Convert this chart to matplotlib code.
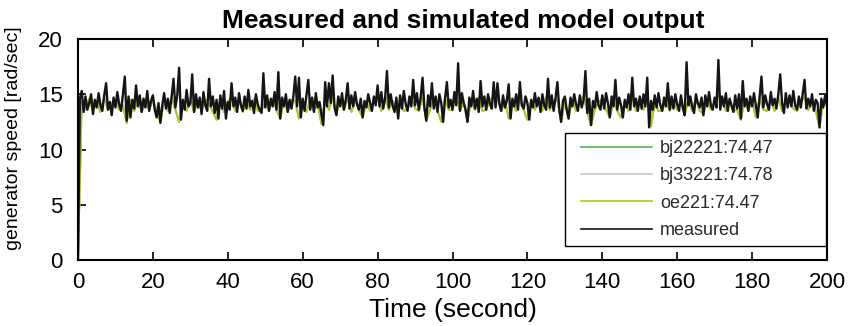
import numpy as np
import matplotlib
matplotlib.use("Agg")
import matplotlib.pyplot as plt
from matplotlib.patches import Rectangle

plt.rcParams['font.family'] = ['Liberation Sans', 'DejaVu Sans']

# ---- data ----
dt_measured = 0.5   # seconds between measured samples
measured = [
    0.0, 14.6, 15.3, 13.4, 14.8, 13.6, 14.2, 15.0, 13.2, 14.5, 13.8, 15.1, 14.0, 13.5, 14.9, 16.0, 13.6, 14.3, 13.1, 14.7,
    13.8, 15.2, 14.1, 13.5, 15.0, 16.6, 12.6, 14.8, 12.9, 14.5, 13.7, 15.8, 13.9, 14.9, 13.4, 14.6, 13.8, 15.3, 13.5, 14.4,
    14.9, 13.6, 12.9, 14.2, 12.4, 14.0, 15.1, 13.7, 14.6, 13.3, 14.8, 16.4, 13.8, 14.9, 17.4, 12.7, 14.5, 13.6, 15.4, 13.9,
    14.2, 16.8, 13.4, 15.0, 13.8, 14.7, 13.2, 15.2, 14.0, 13.5, 16.4, 13.9, 14.8, 13.3, 14.5, 12.8, 14.9, 13.7, 15.3, 12.8,
    14.3, 13.6, 16.0, 13.9, 14.7, 13.4, 15.1, 14.0, 13.5, 14.8, 13.7, 15.4, 13.9, 14.4, 13.3, 15.0, 14.1, 13.6, 13.3, 16.9,
    13.8, 14.9, 13.5, 14.6, 13.9, 15.2, 13.6, 17.0, 12.8, 14.7, 13.9, 15.0, 13.4, 14.5, 13.7, 14.8, 16.6, 13.9, 16.5, 12.9,
    14.6, 13.5, 14.9, 16.3, 13.6, 14.7, 13.4, 15.1, 13.8, 14.3, 13.2, 12.2, 16.1, 13.9, 16.0, 14.2, 16.7, 13.8, 13.1, 14.8,
    13.9, 15.1, 13.6, 14.5, 16.0, 13.7, 14.9, 13.9, 15.2, 14.1, 13.6, 14.6, 12.9, 14.4, 13.8, 15.0, 14.2, 13.5, 14.8, 14.0,
    15.8, 13.9, 15.2, 13.7, 14.6, 17.1, 13.8, 15.0, 14.0, 13.4, 14.7, 12.8, 14.9, 13.7, 15.3, 14.1, 13.5, 14.8, 13.9, 16.3,
    14.0, 15.1, 13.6, 14.7, 16.5, 13.8, 12.6, 14.9, 13.9, 16.0, 13.7, 14.8, 13.4, 15.0, 14.2, 12.5, 14.6, 16.1, 13.8, 14.5,
    13.6, 15.2, 14.0, 17.8, 13.5, 15.1, 14.2, 13.6, 12.5, 14.7, 13.9, 15.3, 13.7, 14.6, 13.4, 16.2, 13.9, 14.8, 13.6, 15.0,
    14.1, 13.7, 16.1, 13.8, 16.0, 14.2, 13.5, 14.9, 13.8, 14.4, 15.9, 12.8, 14.6, 13.9, 15.0, 13.6, 16.1, 14.0, 13.7, 14.8,
    14.2, 12.7, 14.5, 13.8, 15.1, 13.9, 14.7, 13.4, 15.0, 14.0, 13.6, 16.4, 13.8, 14.9, 13.5, 14.6, 16.1, 13.7, 12.5, 14.4,
    14.8, 13.6, 12.8, 14.7, 13.9, 15.0, 14.1, 13.5, 14.9, 13.8, 14.5, 17.1, 13.3, 14.6, 12.2, 14.4, 13.8, 15.2, 14.0, 13.6,
    14.9, 13.7, 15.1, 14.2, 12.9, 14.8, 13.9, 16.3, 13.6, 14.7, 14.0, 12.9, 14.5, 13.8, 15.0, 13.6, 16.5, 13.9, 14.6, 13.5,
    14.8, 13.7, 15.0, 13.9, 16.5, 12.0, 14.4, 13.6, 14.9, 13.8, 15.1, 14.0, 13.5, 14.7, 13.9, 16.0, 13.6, 14.8, 13.7, 15.0,
    14.1, 13.5, 14.9, 13.8, 13.1, 17.9, 14.0, 14.8, 13.9, 13.3, 15.0, 14.2, 13.8, 14.7, 13.1, 14.9, 13.9, 15.2, 14.0, 13.6,
    14.7, 13.8, 18.1, 13.6, 14.8, 13.9, 15.1, 13.5, 14.6, 14.0, 13.4, 14.9, 13.7, 15.0, 12.8, 16.2, 13.9, 14.6, 13.5, 14.8,
    13.9, 15.1, 14.0, 12.9, 14.7, 16.6, 13.8, 14.9, 14.1, 13.6, 15.2, 14.0, 14.6, 13.7, 15.0, 16.8, 14.2, 13.3, 15.1, 13.8,
    14.9, 13.9, 15.3, 14.0, 13.6, 14.8, 13.8, 15.0, 16.3, 13.7, 14.6, 13.9, 15.0, 13.5, 14.5, 14.2, 12.0, 14.6, 13.8, 14.9,
    14.0,
]

dt_model = 1.0      # seconds between simulated samples
simulated = [
    0.0, 14.3, 13.6, 14.6, 13.5, 14.4, 13.4, 14.7, 13.6, 14.2,
    14.5, 13.6, 14.0, 12.4, 14.5, 13.5, 14.6, 13.4, 14.3, 13.6,
    14.5, 13.4, 12.5, 14.4, 13.5, 14.7, 13.6, 12.5, 14.3, 13.5,
    14.6, 13.4, 14.4, 13.5, 14.5, 14.1, 13.4, 12.7, 14.5, 13.4,
    14.3, 14.8, 13.5, 14.5, 13.4, 14.3, 13.6, 14.6, 13.5, 13.5,
    14.4, 13.5, 14.6, 13.6, 12.8, 14.4, 13.4, 14.5, 14.4, 12.8,
    14.3, 13.4, 14.5, 13.5, 14.2, 12.3, 14.5, 13.6, 14.7, 13.2,
    14.5, 13.6, 14.6, 13.4, 14.5, 13.6, 12.9, 14.3, 13.5, 14.4,
    14.7, 13.5, 14.8, 13.6, 14.4, 13.4, 14.5, 13.5, 13.6, 14.6,
    13.7, 13.5, 14.7, 12.6, 13.6, 14.5, 13.5, 12.5, 14.6, 13.6,
    13.6, 14.8, 13.5, 14.3, 12.5, 14.5, 13.6, 14.7, 13.5, 13.6,
    14.5, 14.7, 14.6, 13.5, 14.4, 12.8, 14.3, 13.5, 14.7, 13.6,
    12.7, 14.4, 13.6, 14.5, 13.5, 14.8, 13.6, 14.4, 14.5, 12.5,
    14.4, 12.8, 14.5, 13.5, 14.4, 14.8, 13.4, 12.2, 13.6, 14.3,
    14.5, 13.6, 12.9, 14.4, 13.5, 12.9, 14.4, 13.5, 14.8, 13.5,
    14.4, 13.6, 14.6, 12.1, 14.3, 13.5, 13.5, 14.5, 13.5, 14.4,
    13.6, 14.3, 13.2, 14.5, 13.5, 14.6, 13.5, 13.2, 14.4, 13.6,
    14.3, 14.9, 14.4, 13.5, 14.3, 13.5, 13.6, 12.7, 14.5, 13.5,
    14.5, 12.9, 14.6, 13.6, 13.5, 14.5, 13.5, 14.7, 13.5, 14.4,
    14.5, 13.7, 13.5, 14.4, 14.7, 13.6, 14.5, 13.5, 12.0, 14.3,
    14.0,
]

series_labels = ["bj22221:74.47", "bj33221:74.78", "oe221:74.47", "measured"]
series_colors = ["#4cbb4c", "#c8c8c8", "#b8c41e", "#151515"]

title = "Measured and simulated model output"
xlabel = "Time (second)"
ylabel = "generator speed [rad/sec]"
xticks = list(range(0, 201, 20))
yticks = [0, 5, 10, 15, 20]

t_meas = np.arange(len(measured)) * dt_measured
t_sim = np.arange(len(simulated)) * dt_model

fig = plt.figure(figsize=(8.52, 3.26), dpi=100)
ax = fig.add_axes([78 / 852, 1 - 260 / 326, (827 - 78) / 852, (260 - 39) / 326])

ax.plot(t_sim, simulated, color=series_colors[0], lw=1.3, label=series_labels[0])
ax.plot(t_sim, simulated, color=series_colors[1], lw=1.3, label=series_labels[1])
ax.plot(t_sim, simulated, color=series_colors[2], lw=1.3, label=series_labels[2])
ax.plot(t_meas, measured, color=series_colors[3], lw=1.7, label=series_labels[3])

ax.set_xlim(0, 200)
ax.set_ylim(0, 20)
ax.set_xticks(xticks)
ax.set_yticks(yticks)
ax.tick_params(direction='in', length=6, width=1.2, top=True, right=True,
               labelsize=16, colors='black')
ax.tick_params(axis='y', pad=11)
ax.tick_params(axis='x', pad=9)
for s in ax.spines.values():
    s.set_linewidth(1.5)
    s.set_color('black')

ttl = ax.set_title(title, fontsize=19, fontweight='bold', pad=8)
ttl.set_x(0.515)
ax.set_xlabel(xlabel, fontsize=19, labelpad=3)
ax.set_ylabel(ylabel, fontsize=14)
ax.yaxis.set_label_coords(-0.075, 0.55)

# legend entries (frame drawn separately to match the wide MATLAB box)
leg = ax.legend(loc='upper left', bbox_to_anchor=((581 - 78) / 749, (260 - 140) / 221),
                fontsize=13, frameon=False,
                handlelength=3.93, handletextpad=0.45, labelspacing=0.57,
                borderpad=0.0, borderaxespad=0.0)
for line in leg.get_lines():
    line.set_linewidth(1.2)
for txt in leg.get_texts():
    txt.set_color('#2a2a2a')
x0, x1 = (565 - 78) / 749, (826 - 78) / 749
y0, y1 = (260 - 246) / 221, (260 - 133) / 221
ax.add_patch(Rectangle((x0, y0), x1 - x0, y1 - y0, transform=ax.transAxes,
                       facecolor='white', edgecolor='black', lw=1.0, zorder=4))
leg.set_zorder(5)

fig.savefig("out.png", dpi=100)
